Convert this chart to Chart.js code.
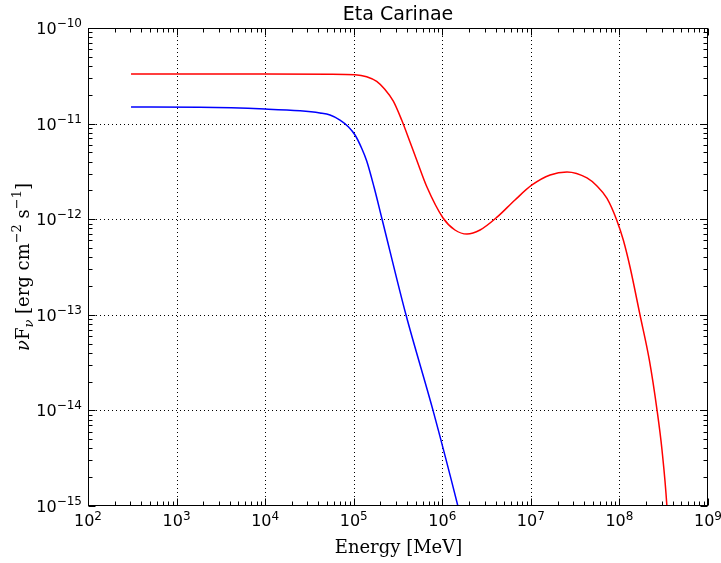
<!DOCTYPE html>
<html><head><meta charset="utf-8">
<script src="https://cdn.jsdelivr.net/npm/chart.js@4/dist/chart.umd.min.js"></script>
<style>html,body{margin:0;padding:0;background:#fff}canvas{display:block}</style>
</head><body>
<canvas id="c" width="721" height="563"></canvas>
<script>
const chartTitle = "Eta Carinae";
const xAxisTitle = "Energy [MeV]";
// Red curve
const energyRed = [306, 1840, 1.0e4, 5.40e4, 1.035e5, 1.40e5, 1.818e5, 2.256e5, 2.80e5, 3.48e5, 4.32e5, 5.14e5, 6.71e5, 1.02e6, 1.39e6, 1.90e6, 2.67e6, 4.15e6, 6.62e6, 1.03e7, 1.65e7, 2.56e7, 4.30e7, 5.58e7, 7.24e7, 9.31e7, 1.106e8, 1.317e8, 1.708e8, 2.175e8, 2.657e8, 3.025e8, 3.44e8, 3.8e8];
const fluxRed   = [3.30e-11, 3.30e-11, 3.30e-11, 3.29e-11, 3.25e-11, 3.09e-11, 2.76e-11, 2.27e-11, 1.72e-11, 1.09e-11, 6.42e-12, 4.16e-12, 2.17e-12, 1.03e-12, 7.71e-13, 7.0e-13, 7.71e-13, 1.05e-12, 1.59e-12, 2.28e-12, 2.90e-12, 3.12e-12, 2.70e-12, 2.22e-12, 1.65e-12, 9.82e-13, 6.05e-13, 3.16e-13, 9.95e-14, 3.37e-14, 1.01e-14, 3.85e-15, 9.76e-16, 1.5e-16];
// Blue curve
const energyBlue = [306, 1840, 1.0e4, 2.48e4, 4.16e4, 5.40e4, 7.0e4, 8.69e4, 1.035e5, 1.23e5, 1.402e5, 1.695e5, 2.09e5, 3.89e5, 7.86e5, 1.50e6, 1.80e6];
const fluxBlue   = [1.49e-11, 1.48e-11, 1.42e-11, 1.36e-11, 1.29e-11, 1.23e-11, 1.09e-11, 9.29e-12, 7.60e-12, 5.52e-12, 4.06e-12, 2.17e-12, 1.0e-12, 1.0e-13, 1.0e-14, 1.0e-15, 5.0e-16];
// Tick label exponents
const xTickExponents = [2, 3, 4, 5, 6, 7, 8, 9];
const yTickExponents = [-15, -14, -13, -12, -11, -10];

function toPoints(xs, ys) { return xs.map((x, i) => ({ x: x, y: ys[i] })); }
function sup(n) { return String(n).replace('-', '\u2212'); }

const SANS = '"DejaVu Sans", sans-serif';
const SERIF = '"DejaVu Serif", "Liberation Serif", serif';

function drawSegments(ctx, segs, cx, cy) {
  let total = 0;
  segs.forEach(s => { ctx.font = s.font; s.w = ctx.measureText(s.t).width; total += s.w; });
  let x = cx - total / 2;
  ctx.textBaseline = 'alphabetic';
  ctx.textAlign = 'left';
  segs.forEach(s => { ctx.font = s.font; ctx.fillText(s.t, x, cy + (s.dy || 0)); x += s.w; });
}

const framePlugin = {
  id: 'frame',
  beforeDatasetsDraw(chart) {
    const ctx = chart.ctx, a = chart.chartArea;
    const xs = chart.scales.x, ys = chart.scales.y;
    ctx.save();
    ctx.strokeStyle = '#000';
    ctx.lineWidth = 1;
    ctx.setLineDash([1, 3]);
    xTickExponents.forEach(e => {
      const px = Math.round(xs.getPixelForValue(Math.pow(10, e))) + 0.5;
      if (px <= a.left + 1 || px >= a.right - 1) return;
      ctx.beginPath(); ctx.moveTo(px, a.top); ctx.lineTo(px, a.bottom); ctx.stroke();
    });
    yTickExponents.forEach(e => {
      const py = Math.round(ys.getPixelForValue(Math.pow(10, e))) + 0.5;
      if (py <= a.top + 1 || py >= a.bottom - 1) return;
      ctx.beginPath(); ctx.moveTo(a.left, py); ctx.lineTo(a.right, py); ctx.stroke();
    });
    ctx.restore();
  },
  afterDatasetsDraw(chart) {
    const ctx = chart.ctx, a = chart.chartArea;
    const xs = chart.scales.x, ys = chart.scales.y;
    ctx.save();
    ctx.setLineDash([]);
    ctx.strokeStyle = '#000';
    ctx.fillStyle = '#000';
    ctx.lineWidth = 1;
    const majLen = 7, minLen = 4;
    const L = Math.round(a.left) + 0.5, R = Math.round(a.right) - 0.5, T = Math.round(a.top) + 0.5, B = Math.round(a.bottom) - 0.5;
    ctx.beginPath();
    for (let e = xTickExponents[0]; e <= xTickExponents[xTickExponents.length - 1]; e++) {
      for (let k = 1; k <= 9; k++) {
        const v = k * Math.pow(10, e);
        if (v > xs.max * 1.0001) continue;
        const px = Math.round(xs.getPixelForValue(v)) + 0.5;
        const len = k === 1 ? majLen : minLen;
        ctx.moveTo(px, B); ctx.lineTo(px, B - len);
        ctx.moveTo(px, T); ctx.lineTo(px, T + len);
      }
    }
    for (let e = yTickExponents[0]; e <= yTickExponents[yTickExponents.length - 1]; e++) {
      for (let k = 1; k <= 9; k++) {
        const v = k * Math.pow(10, e);
        if (v > ys.max * 1.0001) continue;
        const py = Math.round(ys.getPixelForValue(v)) + 0.5;
        const len = k === 1 ? majLen : minLen;
        ctx.moveTo(L, py); ctx.lineTo(L + len, py);
        ctx.moveTo(R, py); ctx.lineTo(R - len, py);
      }
    }
    ctx.stroke();
    ctx.strokeRect(L, T, R - L, B - T);
    // x tick labels
    xTickExponents.forEach(e => {
      const px = xs.getPixelForValue(Math.pow(10, e));
      drawSegments(ctx, [
        { t: '10', font: '16px ' + SANS },
        { t: sup(e), font: '12px ' + SANS, dy: -6 }
      ], px, a.bottom + 20);
    });
    // y tick labels (right aligned)
    yTickExponents.forEach(e => {
      const py = ys.getPixelForValue(Math.pow(10, e));
      ctx.font = '12px ' + SANS;
      const ew = ctx.measureText(sup(e)).width;
      ctx.font = '16px ' + SANS;
      const bw = ctx.measureText('10').width;
      const right = a.left - 6;
      ctx.textAlign = 'left';
      ctx.textBaseline = 'alphabetic';
      ctx.fillText('10', right - ew - bw, py + 6);
      ctx.font = '12px ' + SANS;
      ctx.fillText(sup(e), right - ew, py - 1);
    });
    // title
    ctx.font = '19px ' + SANS;
    ctx.textAlign = 'center';
    ctx.textBaseline = 'alphabetic';
    ctx.fillText(chartTitle, (a.left + a.right) / 2, 20);
    // x axis title
    drawSegments(ctx, [{ t: xAxisTitle, font: '18px ' + SERIF }], (a.left + a.right) / 2 + 0.5, 553);
    // y axis title (rotated)
    ctx.save();
    ctx.translate(29, (a.top + a.bottom) / 2);
    ctx.rotate(-Math.PI / 2);
    drawSegments(ctx, [
      { t: '\u03bd', font: 'italic 18px ' + SERIF },
      { t: 'F', font: '18px ' + SERIF },
      { t: '\u03bd', font: 'italic 13px ' + SERIF, dy: 4 },
      { t: ' [erg cm', font: '18px ' + SERIF },
      { t: '\u22122', font: '13px ' + SERIF, dy: -8 },
      { t: ' s', font: '18px ' + SERIF },
      { t: '\u22121', font: '13px ' + SERIF, dy: -8 },
      { t: ']', font: '18px ' + SERIF }
    ], 0, 0);
    ctx.restore();
    ctx.restore();
  }
};

new Chart(document.getElementById('c'), {
  type: 'line',
  data: {
    datasets: [
      { data: toPoints(energyRed, fluxRed), borderColor: '#ff0000', borderWidth: 1.5, pointRadius: 0, cubicInterpolationMode: 'monotone', fill: false },
      { data: toPoints(energyBlue, fluxBlue), borderColor: '#0000ff', borderWidth: 1.5, pointRadius: 0, cubicInterpolationMode: 'monotone', fill: false }
    ]
  },
  options: {
    responsive: false,
    devicePixelRatio: 1,
    animation: false,
    layout: { padding: { top: 28, right: 13, left: 0, bottom: 0 } },
    plugins: { legend: { display: false }, tooltip: { enabled: false }, title: { display: false } },
    scales: {
      x: {
        type: 'logarithmic', min: 100, max: 1e9,
        grid: { display: false }, border: { display: false },
        ticks: { display: false },
        afterFit: s => { s.height = 57; }
      },
      y: {
        type: 'logarithmic', min: 1e-15, max: 1e-10,
        grid: { display: false }, border: { display: false },
        ticks: { display: false },
        afterFit: s => { s.width = 88; }
      }
    }
  },
  plugins: [framePlugin]
});
</script>
</body></html>
